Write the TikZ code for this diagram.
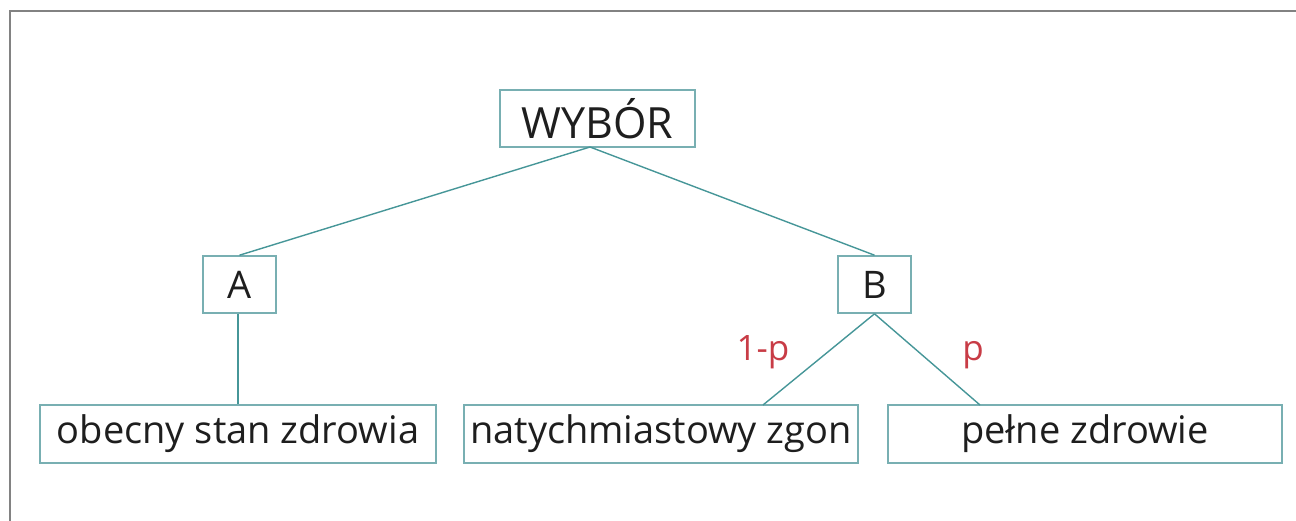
\documentclass[tikz,border=0pt]{standalone}
\usepackage{fontspec}
\setmainfont{Open Sans}
\definecolor{boxc}{RGB}{120,175,178}
\definecolor{linec}{RGB}{70,150,152}
\definecolor{labc}{RGB}{200,60,70}
\definecolor{framec}{RGB}{130,130,130}
\definecolor{txtc}{RGB}{30,30,30}
\tikzset{
  bx/.style={draw=boxc, line width=1.6pt, fill=white, inner sep=0pt, text=txtc, font=\fontsize{38}{44}\selectfont},
  ln/.style={draw=linec, line width=1.4pt},
  lab/.style={text=labc, font=\fontsize{35}{40}\selectfont, anchor=base}
}
\begin{document}
\begin{tikzpicture}[x=1pt,y=-1pt]
\useasboundingbox (0,0) rectangle (1296,520);
\draw[framec, line width=2pt] (10,530) -- (10,11) -- (1300,11);
\node[bx, minimum width=195pt, minimum height=57pt, font=\fontsize{43}{48}\selectfont] (w) at (597.5,118.5) {WYBÓR};
\node[bx, minimum width=73pt, minimum height=57pt] (a) at (239.5,284.5) {A};
\node[bx, minimum width=73pt, minimum height=57pt] (b) at (874.5,284.5) {B};
\node[bx, minimum width=396pt, minimum height=58pt] (o) at (238,434) {obecny stan zdrowia};
\node[bx, minimum width=394pt, minimum height=58pt] (n) at (661,434) {natychmiastowy zgon};
\node[bx, minimum width=394pt, minimum height=58pt] (p) at (1085,434) {pełne zdrowie};
\coordinate (wb) at (590,147);
\draw[ln] (wb) -- (a.north);
\draw[ln] (wb) -- (b.north);
\draw[ln] (o.north) -- (o.north |- a.south);
\draw[ln] (b.south) -- (763,405) coordinate (nt);
\draw[ln] (b.south) -- (980,405) coordinate (pt);
\node[lab] (l1) at (763,360) {1-p};
\node[lab] (l2) at (973,360) {p};
\end{tikzpicture}
\end{document}
